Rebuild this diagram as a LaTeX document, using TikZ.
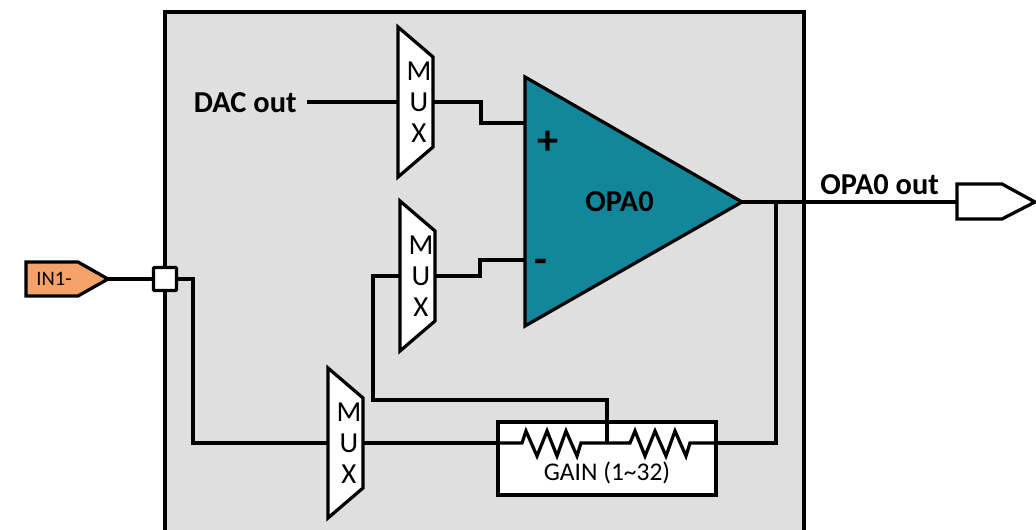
\documentclass[tikz,border=0pt]{standalone}
\usepackage{fontspec}
\setmainfont{Carlito}
\usepackage{xcolor}
\usetikzlibrary{calc, positioning}
\definecolor{blockgray}{HTML}{DFDFDF}
\definecolor{opateal}{HTML}{12869B}
\definecolor{padorange}{HTML}{F4A26A}
\tikzset{
    wire/.style={line width=1.85pt, line join=miter},
    muxbox/.style={inner sep=0pt, minimum width=0.7cm, minimum height=3cm, align=center, font=\fontsize{16.5}{17.5}\selectfont},
    boldlabel/.style={inner sep=0pt, font=\fontsize{17.3}{19}\selectfont\bfseries}
}

\begin{document}
\begin{tikzpicture}[x=0.02cm, y=-0.02cm]
    \clip (0,0) rectangle (1036,530);

    % Khối nền
    \draw[wire, fill=blockgray] (165,12) rectangle (804,560);

    % Các cổng vào ra
    \draw[wire, fill=padorange] (26,262) -- (78,262) -- (108,279) -- (78,296) -- (26,296) -- cycle;
    \node[font=\fontsize{11.7}{13}\selectfont] (inpad) at (54,279) {IN1-};
    \coordinate (intip) at (108,279);
    \node[wire, draw, fill=white, rounded corners=0.5pt, minimum size=0.46cm, inner sep=0pt] (junction) at (165,279) {};
    \draw[wire, fill=white] (957,184) -- (1002,184) -- (1035,202) -- (1002,219) -- (957,219) -- cycle;
    \coordinate (outpad) at (957,202);

    % Ba bộ MUX
    \foreach \name/\x/\y in {muxtop/415.5/102, muxmid/417.5/276, muxlow/345.5/443} {
        \draw[wire, fill=white] (\x-17.5,\y-75) -- (\x+17.5,\y-45) -- (\x+17.5,\y+45) -- (\x-17.5,\y+75) -- cycle;
        \node[muxbox] (\name) at (\x,\y) {\hspace{0.14cm}M\\\hspace{0.14cm}U\\\hspace{0.14cm}X};
    }

    % Bộ khuếch đại
    \draw[wire, fill=opateal] (525,77) -- (742,202) -- (525,326) -- cycle;
    \coordinate (opaplus) at (525,123);
    \coordinate (opaminus) at (525,260);
    \coordinate (opaout) at (742,202);
    \node[boldlabel] (opaname) at (619.5,202) {OPA0};
    \node[font=\fontsize{24}{24}\selectfont\bfseries] (plussign) at (548,143) {+};
    \node[font=\fontsize{24}{24}\selectfont\bfseries] (minussign) at (541,266) {-};

    % Khối GAIN và hai điện trở
    \node[wire, draw, fill=white, minimum width=4.36cm, minimum height=1.46cm, inner sep=0pt] (gain) at (607,458.5) {};
    \node[font=\fontsize{14.5}{16}\selectfont] (gainname) at (607,473) {GAIN (1\textasciitilde 32)};
    \coordinate (gaintap) at (607,443);
    \coordinate (gainleft) at (gain.west |- gaintap);
    \coordinate (gainright) at (gain.east |- gaintap);
    \draw[wire] (gainleft) -- (522,443) -- (526,431) -- (537,456) -- (547,431) -- (557,456) -- (566,431) -- (577,456) -- (581,443)
        -- (gaintap) -- (630,443) -- (635,431) -- (645,456) -- (655,431) -- (666,456) -- (675,431) -- (686,456) -- (690,443) -- (gainright);

    % Các nhãn
    \node[boldlabel, anchor=east] (dacout) at (297,103) {DAC out};
    \node[boldlabel, anchor=west] (opaoutname) at (820,185) {OPA0 out};

    % Các đường nối
    \draw[wire] (dacout.east) ++(10,-1) -- (muxtop.west);
    \draw[wire] (muxtop.east) -- (481,102) -- (481,123) -- (opaplus);
    \draw[wire] (muxmid.east) -- (480,276) -- (480,260) -- (opaminus);
    \draw[wire] (intip) -- (junction);
    \draw[wire] (junction) -- (193,279) -- (193,443) -- (muxlow.west);
    \draw[wire] (muxlow.east) -- (gainleft);
    \draw[wire] (gaintap) -- (607,400) -- (373,400) -- (373,276) -- (muxmid.west);
    \draw[wire] (opaout) -- (outpad);
    \draw[wire] (776,202) -- (776,443) -- (gainright);
\end{tikzpicture}
\end{document}
